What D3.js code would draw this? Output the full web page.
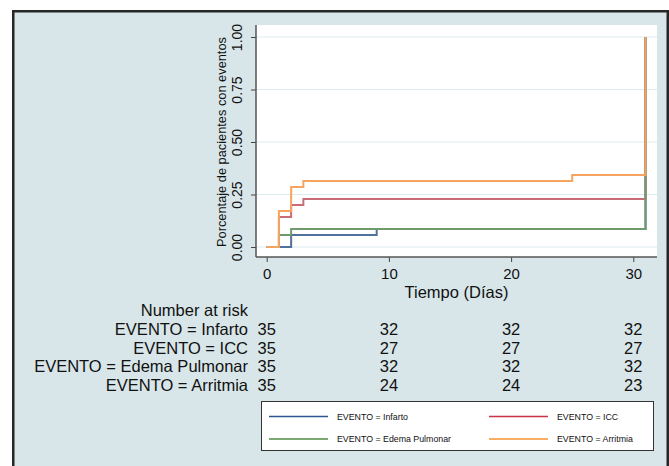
<!DOCTYPE html>
<html>
<head>
<meta charset="utf-8">
<script src="https://cdn.jsdelivr.net/npm/d3@7"></script>
<style>
  body { margin: 0; background: #fff; }
  text { font-family: "Liberation Sans", Arial, Helvetica, sans-serif; fill: #111; }
</style>
</head>
<body>
<div id="chart"></div>
<script>
// step curves (cumulative proportion with events)
var infartoT = [0, 2, 9, 31];
var infartoV = [0, 0.057, 0.086, 1.0];
var iccT = [0, 1, 2, 3, 31];
var iccV = [0, 0.143, 0.2, 0.229, 1.0];
var edemaT = [0, 1, 2, 31];
var edemaV = [0, 0.057, 0.086, 1.0];
var arritmiaT = [0, 1, 2, 3, 25, 31];
var arritmiaV = [0, 0.171, 0.286, 0.314, 0.343, 1.0];

var seriesNames = ["EVENTO = Infarto", "EVENTO = ICC", "EVENTO = Edema Pulmonar", "EVENTO = Arritmia"];

// number at risk table
var riskTimes = [0, 10, 20, 30];
var riskInfarto = [35, 32, 32, 32];
var riskIcc = [35, 27, 27, 27];
var riskEdema = [35, 32, 32, 32];
var riskArritmia = [35, 24, 24, 23];

var xTicks = [0, 10, 20, 30];
var yTicks = [0, 0.25, 0.5, 0.75, 1];

var svgWidth = 669;
var svgHeight = 466;

var plot = { left: 256, right: 657, top: 25, bottom: 257 };

var lineColors = ["#50719c", "#c96c78", "#6f9a6c", "#f5a462"];
var legendColors = ["#2a558f", "#cc3344", "#4f8c42", "#f7932f"];

var svg = d3.select("#chart")
    .append("svg")
    .attr("width", svgWidth)
    .attr("height", svgHeight);

// outer panel
svg.append("rect")
    .attr("x", 13.25)
    .attr("y", 11.25)
    .attr("width", 654.5)
    .attr("height", 470)
    .attr("fill", "#d8e6e9")
    .attr("stroke", "#262626")
    .attr("stroke-width", 2.5);

svg.append("rect")
    .attr("x", plot.left)
    .attr("y", plot.top)
    .attr("width", plot.right - plot.left)
    .attr("height", plot.bottom - plot.top)
    .attr("fill", "#fff");

var xScale = d3.scaleLinear()
    .domain([0, 30])
    .range([266.7, 633.3]);

var yScale = d3.scaleLinear()
    .domain([0, 1])
    .range([247, 37]);

// grid
svg.append("g")
    .selectAll("line")
    .data(yTicks)
    .enter()
    .append("line")
    .attr("x1", plot.left)
    .attr("x2", plot.right)
    .attr("y1", d => yScale(d))
    .attr("y2", d => yScale(d))
    .attr("stroke", "#dcebee")
    .attr("stroke-width", 1.2);

// curves
var series = [
    { t: infartoT, v: infartoV },
    { t: iccT, v: iccV },
    { t: edemaT, v: edemaV },
    { t: arritmiaT, v: arritmiaV }
];

var line = d3.line()
    .x(d => xScale(d[0]))
    .y(d => yScale(d[1]))
    .curve(d3.curveStepAfter);

series.forEach(function(s, i) {
    var pts = s.t.map((t, j) => [t, s.v[j]]);
    svg.append("path")
        .attr("d", line(pts))
        .attr("fill", "none")
        .attr("stroke", lineColors[i])
        .attr("stroke-width", 2);
});

// axes
var yAxis = d3.axisLeft(yScale)
    .tickValues(yTicks)
    .tickFormat(d3.format(".2f"))
    .tickSize(5);

var yG = svg.append("g")
    .attr("transform", `translate(${plot.left}, 0)`)
    .call(yAxis);
yG.select(".domain").remove();
yG.selectAll("line").attr("stroke", "#444");
yG.selectAll("text")
    .attr("transform", "rotate(-90)")
    .attr("text-anchor", "middle")
    .attr("x", 0)
    .attr("y", -19)
    .attr("dy", "0.35em")
    .attr("font-size", "14px")
    .attr("font-family", "Liberation Sans, Arial, sans-serif")
    .attr("fill", "#111");

var xAxis = d3.axisBottom(xScale)
    .tickValues(xTicks)
    .tickSize(5);

var xG = svg.append("g")
    .attr("transform", `translate(0, ${plot.bottom})`)
    .call(xAxis);
xG.select(".domain").remove();
xG.selectAll("line").attr("stroke", "#444");
xG.selectAll("text")
    .attr("y", 22)
    .attr("dy", 0)
    .attr("font-size", "15px")
    .attr("font-family", "Liberation Sans, Arial, sans-serif")
    .attr("fill", "#111");

svg.append("line")
    .attr("x1", plot.left)
    .attr("x2", plot.left)
    .attr("y1", plot.top)
    .attr("y2", plot.bottom)
    .attr("stroke", "#555")
    .attr("stroke-width", 1.5);

svg.append("line")
    .attr("x1", plot.left)
    .attr("x2", plot.right)
    .attr("y1", plot.bottom)
    .attr("y2", plot.bottom)
    .attr("stroke", "#555")
    .attr("stroke-width", 1.5);

// axis titles
svg.append("text")
    .attr("transform", `translate(226, ${(37 + 247) / 2}) rotate(-90)`)
    .attr("text-anchor", "middle")
    .attr("font-size", "12.8px")
    .text("Porcentaje de pacientes con eventos");

svg.append("text")
    .attr("x", (plot.left + plot.right) / 2)
    .attr("y", 298)
    .attr("text-anchor", "middle")
    .attr("font-size", "16.5px")
    .text("Tiempo (Días)");

// number at risk
var riskRows = [riskInfarto, riskIcc, riskEdema, riskArritmia];
var rowY = [335, 353.6, 372, 390.5];

svg.append("text")
    .attr("x", 248)
    .attr("y", 316)
    .attr("text-anchor", "end")
    .attr("font-size", "16.5px")
    .text("Number at risk");

riskRows.forEach(function(row, i) {
    svg.append("text")
        .attr("x", 248)
        .attr("y", rowY[i])
        .attr("text-anchor", "end")
        .attr("font-size", "16.5px")
        .text(seriesNames[i]);

    svg.append("g")
        .selectAll("text")
        .data(row)
        .enter()
        .append("text")
        .attr("x", (d, j) => xScale(riskTimes[j]))
        .attr("y", rowY[i])
        .attr("text-anchor", "middle")
        .attr("font-size", "16.5px")
        .text(d => d);
});

// legend
var legend = svg.append("g");
legend.append("rect")
    .attr("x", 261.5)
    .attr("y", 401.5)
    .attr("width", 392)
    .attr("height", 49)
    .attr("fill", "#fff")
    .attr("stroke", "#333")
    .attr("stroke-width", 1);

var legX = [269, 489];
var legY = [416.5, 439];

seriesNames.forEach(function(name, i) {
    var cx = legX[i % 2];
    var cy = legY[Math.floor(i / 2)];
    legend.append("line")
        .attr("x1", cx)
        .attr("x2", cx + 59)
        .attr("y1", cy)
        .attr("y2", cy)
        .attr("stroke", legendColors[i])
        .attr("stroke-width", 1.3);
    legend.append("text")
        .attr("x", cx + 68)
        .attr("y", cy)
        .attr("dy", "0.35em")
        .attr("font-size", "8.8px")
        .text(name);
});
</script>
</body>
</html>
